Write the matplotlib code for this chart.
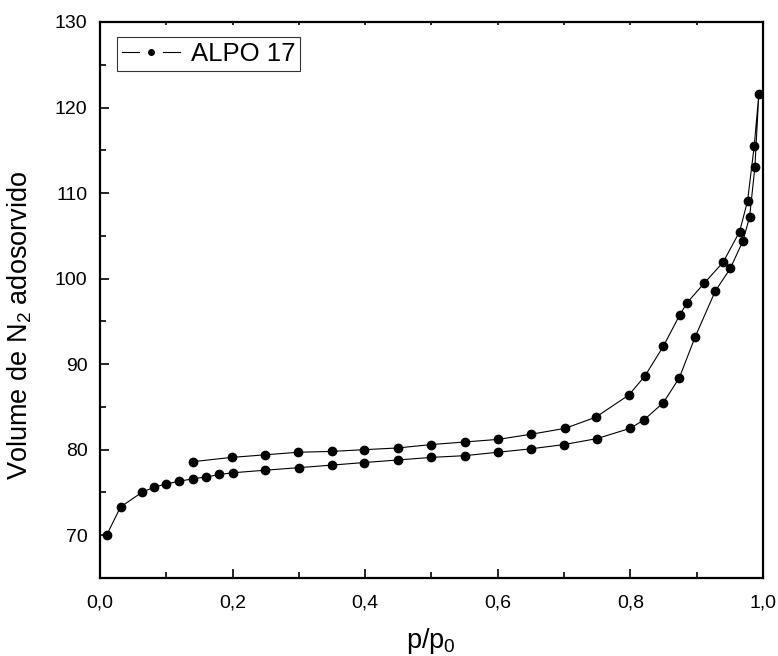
import matplotlib

matplotlib.use("Agg")
import matplotlib.pyplot as plt
from matplotlib.lines import Line2D
from matplotlib.legend_handler import HandlerBase
from matplotlib.ticker import MultipleLocator, FuncFormatter

plt.rcParams["font.family"] = ["Liberation Sans", "DejaVu Sans"]

# adsorption branch (low to high p/p0)
p_ads = [0.010, 0.031, 0.063, 0.081, 0.100, 0.119, 0.140, 0.160, 0.180, 0.200,
         0.249, 0.300, 0.350, 0.399, 0.450, 0.500, 0.550, 0.600, 0.650, 0.700,
         0.750, 0.800, 0.821, 0.850, 0.874, 0.898, 0.928, 0.951, 0.970, 0.980,
         0.988, 0.994]
v_ads = [70.0, 73.3, 75.0, 75.6, 76.0, 76.3, 76.6, 76.8, 77.1, 77.3,
         77.6, 77.9, 78.2, 78.5, 78.8, 79.1, 79.3, 79.7, 80.1, 80.6,
         81.3, 82.5, 83.5, 85.5, 88.4, 93.2, 98.5, 101.2, 104.4, 107.2,
         113.0, 121.6]

# desorption branch (high to low p/p0)
p_des = [0.987, 0.977, 0.965, 0.940, 0.912, 0.886, 0.875, 0.850, 0.822, 0.798,
         0.748, 0.702, 0.650, 0.600, 0.550, 0.500, 0.449, 0.398, 0.350, 0.299,
         0.249, 0.199, 0.140]
v_des = [115.5, 109.1, 105.5, 101.9, 99.5, 97.2, 95.8, 92.1, 88.6, 86.4,
         83.8, 82.5, 81.8, 81.2, 80.9, 80.6, 80.2, 80.0, 79.8, 79.7,
         79.4, 79.1, 78.6]

x = p_ads + p_des
y = v_ads + v_des


class GapLineHandler(HandlerBase):
    """Legend sample drawn as: line - dot - line (gaps around the dot)."""

    def create_artists(self, legend, orig_handle, xdescent, ydescent,
                       width, height, fontsize, trans):
        yc = height / 2 - ydescent
        x0 = -xdescent
        x1 = x0 + width
        seg = width * 0.29
        left = Line2D([x0, x0 + seg], [yc, yc], color="black", lw=0.8)
        right = Line2D([x1 - seg, x1], [yc, yc], color="black", lw=0.8)
        dot = Line2D([(x0 + x1) / 2], [yc], color="black", lw=0, marker="o", ms=4)
        for a in (left, right, dot):
            a.set_transform(trans)
        return [left, right, dot]


fig = plt.figure(figsize=(7.78, 6.56), dpi=100)
ax = fig.add_axes([0.1285, 0.1189, 0.852, 0.8476])

line, = ax.plot(x, y, color="black", lw=0.8, marker="o", ms=6,
                markerfacecolor="black", markeredgecolor="black")

ax.set_xlim(0, 1.0)
ax.set_ylim(65, 130)
ax.xaxis.set_major_locator(MultipleLocator(0.2))
ax.xaxis.set_minor_locator(MultipleLocator(0.1))
ax.yaxis.set_major_locator(MultipleLocator(10))
ax.yaxis.set_minor_locator(MultipleLocator(5))
ax.xaxis.set_major_formatter(FuncFormatter(lambda v, _: f"{v:.1f}".replace(".", ",")))
ax.yaxis.set_major_formatter(FuncFormatter(lambda v, _: f"{v:.0f}"))

ax.tick_params(which="both", direction="in", top=True, right=False,
               labelsize=14, width=1.2)
ax.tick_params(which="major", length=6.5)
ax.tick_params(which="minor", length=4)
ax.tick_params(axis="x", which="major", pad=12)
ax.tick_params(axis="y", which="major", pad=9)
ax.xaxis.set_tick_params(which="both", labeltop=False)
for t in ax.xaxis.get_major_ticks() + ax.xaxis.get_minor_ticks():
    t.tick2line.set_markersize(2)
for s in ax.spines.values():
    s.set_linewidth(1.6)

ax.set_xlabel("p/p$_\\mathregular{0}$", fontsize=19.5, labelpad=10)
ax.set_ylabel("Volume de N$_\\mathregular{2}$ adosorvido", fontsize=19.5)
ax.yaxis.set_label_coords(-0.1, 0.455)

leg = ax.legend([line], ["ALPO 17"], handler_map={line: GapLineHandler()},
                loc="upper left", fontsize=18.5, frameon=True, fancybox=False,
                handlelength=2.27, borderpad=0.2, handletextpad=0.4,
                borderaxespad=0, bbox_to_anchor=(0.0256, 0.973))
leg.get_frame().set_edgecolor("black")
leg.get_frame().set_linewidth(0.8)

fig.savefig("out.png", dpi=100)
